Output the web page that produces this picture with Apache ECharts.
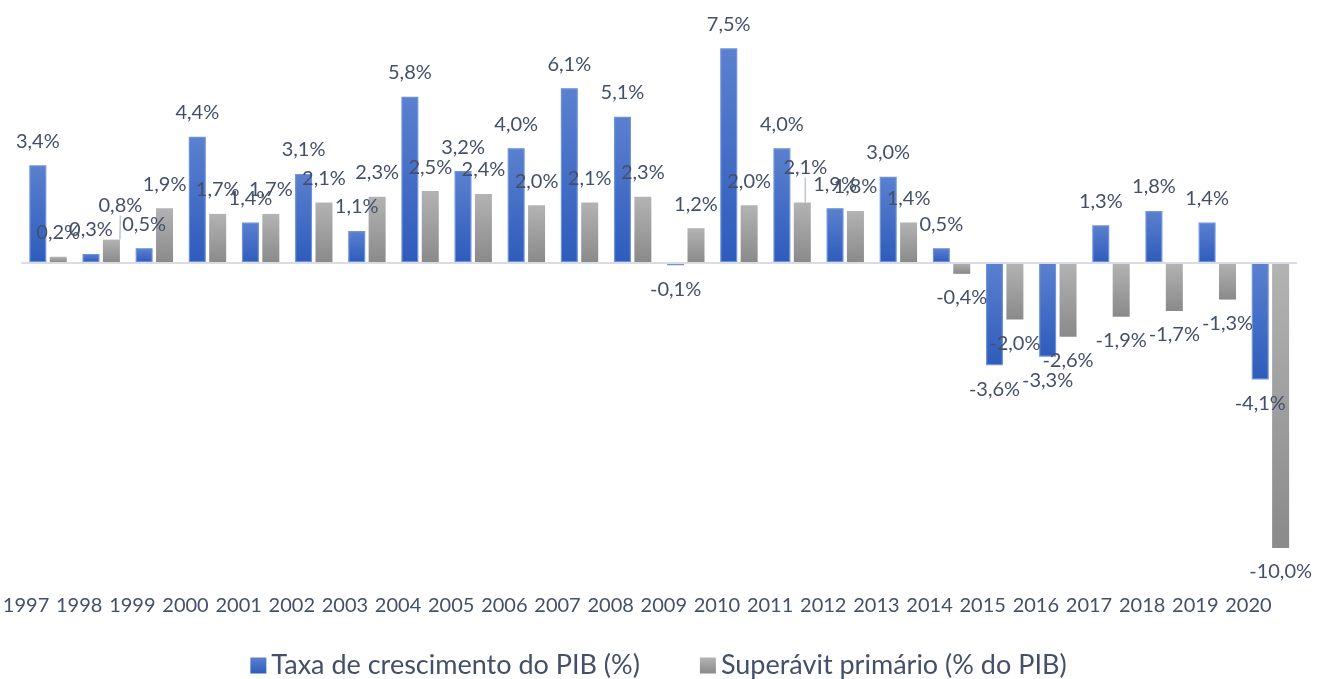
<!DOCTYPE html>
<html>
<head>
<meta charset="utf-8">
<script src="https://cdn.jsdelivr.net/npm/echarts@6/dist/echarts.min.js"></script>
<style>
  html, body { margin: 0; padding: 0; background: #fff; }
  #chart { width: 1317px; height: 679px; }
</style>
</head>
<body>
<div id="chart"></div>
<script>
// anos e séries (valores em %)
var anos = ['1997','1998','1999','2000','2001','2002','2003','2004','2005','2006','2007','2008',
            '2009','2010','2011','2012','2013','2014','2015','2016','2017','2018','2019','2020'];
var pib = [3.4, 0.3, 0.5, 4.4, 1.4, 3.1, 1.1, 5.8, 3.2, 4.0, 6.1, 5.1,
           -0.1, 7.5, 4.0, 1.9, 3.0, 0.5, -3.6, -3.3, 1.3, 1.8, 1.4, -4.1];
var superavit = [0.2, 0.8, 1.9, 1.7, 1.7, 2.1, 2.3, 2.5, 2.4, 2.0, 2.1, 2.3,
                 1.2, 2.0, 2.1, 1.8, 1.4, -0.4, -2.0, -2.6, -1.9, -1.7, -1.3, -10.0];
var nomes = ['Taxa de crescimento do PIB (%)', 'Superávit primário (% do PIB)'];

var corTexto = '#44506a';
var fonte = 'Lato, "Open Sans", sans-serif';

function fmt(v) {
  return v.toFixed(1).replace('.', ',') + '%';
}

// rótulo acima (positivo) ou abaixo (negativo)
function pontos(arr, movidos) {
  return arr.map(function (v, i) {
    var item = {
      value: v,
      label: { position: v < 0 ? 'bottom' : 'top' }
    };
    if (movidos && movidos[i]) {
      item.labelLine = { show: true, lineStyle: { color: '#bfc6d0', width: 1.5 } };
    }
    return item;
  });
}

var blueGrad = new echarts.graphic.LinearGradient(0, 0, 0, 1, [
  { offset: 0, color: '#5b80cf' },
  { offset: 1, color: '#2e5cbc' }
]);
var grayGrad = new echarts.graphic.LinearGradient(0, 0, 0, 1, [
  { offset: 0, color: '#b3b3b3' },
  { offset: 1, color: '#8a8a8a' }
]);

var myChart = echarts.init(document.getElementById('chart'));
myChart.setOption({
  animation: false,
  legend: {
    top: 647,
    left: 'center',
    itemWidth: 16,
    itemHeight: 16,
    itemGap: 60,
    icon: 'rect',
    textStyle: { fontFamily: fonte, fontSize: 27, color: corTexto },
    data: [
      { name: nomes[0], itemStyle: { color: blueGrad, borderWidth: 0 } },
      { name: nomes[1], itemStyle: { color: grayGrad, borderWidth: 0 } }
    ]
  },
  grid: {
    left: 14,
    right: 20,
    top: 34,
    bottom: 131,
    containLabel: false
  },
  xAxis: {
    type: 'category',
    data: anos,
    axisLine: { show: false, onZero: false },
    axisTick: { show: false },
    axisLabel: {
      interval: 0,
      margin: 48,
      padding: [0, 44, 0, 0],
      fontFamily: fonte,
      fontSize: 20,
      color: corTexto
    }
  },
  yAxis: {
    type: 'value',
    min: -10,
    max: 8,
    show: false,
    splitLine: { show: false }
  },
  series: [
    {
      name: nomes[0],
      type: 'bar',
      barWidth: 17,
      barGap: '20%',
      data: pontos(pib),
      itemStyle: { color: blueGrad, borderColor: '#6f93da', borderWidth: 1.2 },
      label: {
        show: true,
        distance: 14,
        formatter: function (p) { return fmt(p.value); },
        fontFamily: fonte,
        fontSize: 20,
        color: corTexto
      },
      markLine: {
        silent: true,
        symbol: 'none',
        label: { show: false },
        lineStyle: { color: '#d9dde3', width: 2, type: 'solid' },
        data: [{ yAxis: 0 }]
      }
    },
    {
      name: nomes[1],
      type: 'bar',
      barWidth: 17,
      data: pontos(superavit, { 1: true, 14: true }),
      itemStyle: { color: grayGrad },
      label: {
        show: true,
        distance: 14,
        formatter: function (p) { return fmt(p.value); },
        fontFamily: fonte,
        fontSize: 20,
        color: corTexto
      },
      labelLayout: function (params) {
        if (params.dataIndex === 1) return { dx: 9, dy: -10 };
        if (params.dataIndex === 14) return { dx: 3, dy: -11 };
        return {};
      }
    }
  ]
});
</script>
</body>
</html>
